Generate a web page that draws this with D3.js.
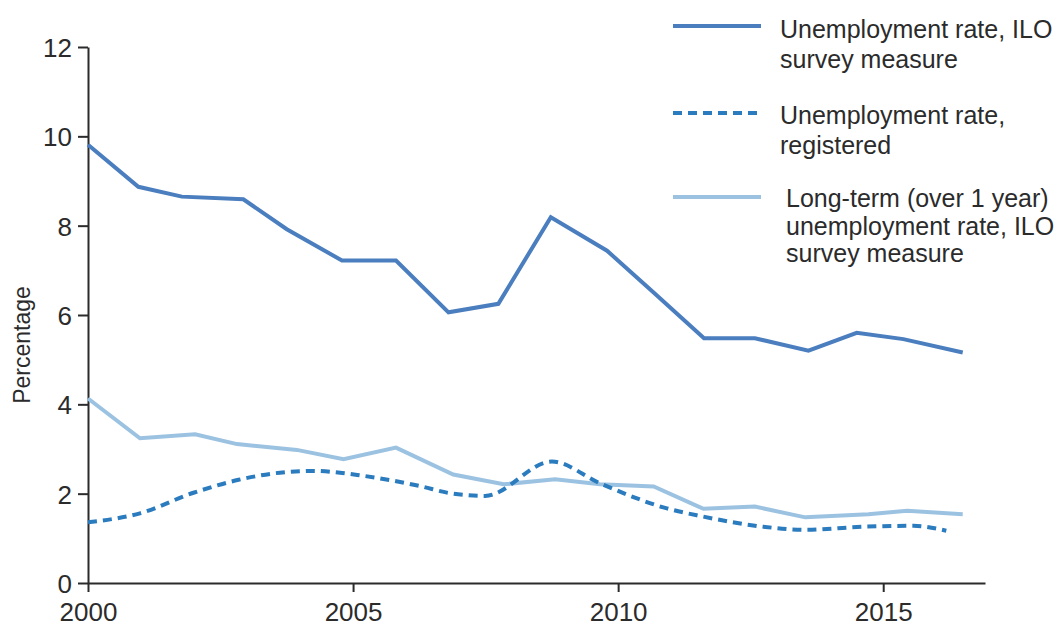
<!DOCTYPE html>
<html>
<head>
<meta charset="utf-8">
<script src="https://cdn.jsdelivr.net/npm/d3@7"></script>
<style>
  body { margin: 0; background: #fff; }
  .chart text { font-family: "Liberation Sans", Arial, sans-serif; fill: #2b2b2b; }
</style>
</head>
<body>
<svg class="chart"></svg>
<script>
// values (x positions in fractional years)
var iloYears = [2000, 2000.95, 2001.77, 2002.93, 2003.75, 2004.79, 2005.81, 2006.80, 2007.74, 2008.73, 2009.79, 2010.70, 2011.62, 2012.58, 2013.59, 2014.50, 2015.38, 2016.50];
var iloRate  = [9.81, 8.87, 8.65, 8.59, 7.92, 7.22, 7.22, 6.06, 6.25, 8.19, 7.44, 6.47, 5.48, 5.48, 5.20, 5.60, 5.46, 5.16];

var regYears = [2000, 2000.98, 2001.99, 2002.84, 2003.62, 2004.25, 2005.19, 2006.26, 2006.83, 2007.49, 2008.75, 2009.66, 2010.92, 2011.55, 2012.74, 2013.50, 2014.63, 2015.57, 2016.19];
var regRate  = [1.36, 1.56, 2.02, 2.31, 2.47, 2.51, 2.40, 2.17, 2.01, 1.95, 2.72, 2.23, 1.67, 1.50, 1.26, 1.19, 1.26, 1.28, 1.17];

var longYears = [2000, 2000.98, 2002.02, 2002.81, 2003.94, 2004.82, 2005.81, 2006.89, 2007.84, 2008.81, 2009.66, 2010.67, 2011.61, 2012.58, 2013.53, 2014.72, 2015.45, 2016.50];
var longRate  = [4.13, 3.24, 3.33, 3.11, 2.98, 2.77, 3.03, 2.43, 2.21, 2.32, 2.21, 2.16, 1.66, 1.71, 1.47, 1.54, 1.62, 1.54];

var xTicks = [2000, 2005, 2010, 2015];
var yTicks = [0, 2, 4, 6, 8, 10, 12];

var seriesNames = [
  ["Unemployment rate, ILO", "survey measure"],
  ["Unemployment rate,", "registered"],
  ["Long-term (over 1 year)", "unemployment rate, ILO", "survey measure"]
];
var colors = ["#4a7ebf", "#2b7bbf", "#9cc2e2"];

var width = 1060, height = 628;

var chart = d3.select(".chart").attr("width", width).attr("height", height);

var x = d3.scaleLinear().domain([2000, 2016.92]).range([88, 985]);
var y = d3.scaleLinear().domain([0, 12]).range([583, 47]);

// axes
var yAxis = chart.append("g")
  .attr("transform", "translate(88,0)")
  .call(d3.axisLeft(y).tickValues(yTicks).tickSize(10).tickSizeOuter(0).tickPadding(6));
var xAxis = chart.append("g")
  .attr("transform", "translate(0,583)")
  .call(d3.axisBottom(x).tickValues(xTicks).tickFormat(d3.format("d")).tickSize(9).tickSizeOuter(0).tickPadding(11));

[yAxis, xAxis].forEach(function(a) {
  a.selectAll("path, line").attr("stroke", "#2b2b2b").attr("stroke-width", 2);
  a.selectAll("text").attr("font-size", "26px").attr("fill", "#2b2b2b");
});
yAxis.selectAll("text").attr("dy", "0.36em");

chart.append("text")
  .attr("transform", "translate(30,345) rotate(-90)")
  .attr("text-anchor", "middle")
  .attr("font-size", "23px")
  .text("Percentage");

// lines
var line = d3.line().x(function(d) { return x(d[0]); }).y(function(d) { return y(d[1]); });
var smooth = d3.line().curve(d3.curveMonotoneX).x(function(d) { return x(d[0]); }).y(function(d) { return y(d[1]); });

function pairs(a, b) { return a.map(function(v, i) { return [v, b[i]]; }); }

chart.append("path").datum(pairs(longYears, longRate))
  .attr("d", line).attr("fill", "none").attr("stroke", colors[2]).attr("stroke-width", 4);
chart.append("path").datum(pairs(regYears, regRate))
  .attr("d", smooth).attr("fill", "none").attr("stroke", colors[1]).attr("stroke-width", 4)
  .attr("stroke-dasharray", "9,6");
chart.append("path").datum(pairs(iloYears, iloRate))
  .attr("d", line).attr("fill", "none").attr("stroke", colors[0]).attr("stroke-width", 4)
  .attr("stroke-linejoin", "miter");

// legend
var legY = [26, 113, 197];
var legText = [{x: 780, y: 38}, {x: 780, y: 124}, {x: 786, y: 207}];
var lineH = [30, 30, 27.5];

seriesNames.forEach(function(names, i) {
  var ln = chart.append("line")
    .attr("x1", 673).attr("x2", 761)
    .attr("y1", legY[i]).attr("y2", legY[i])
    .attr("stroke", colors[i]).attr("stroke-width", 4);
  if (i === 1) ln.attr("stroke-dasharray", "9,6");
  var t = chart.append("text").attr("font-size", "25px");
  names.forEach(function(s, j) {
    t.append("tspan").attr("x", legText[i].x).attr("y", legText[i].y + j * lineH[i]).text(s);
  });
});
</script>
</body>
</html>
